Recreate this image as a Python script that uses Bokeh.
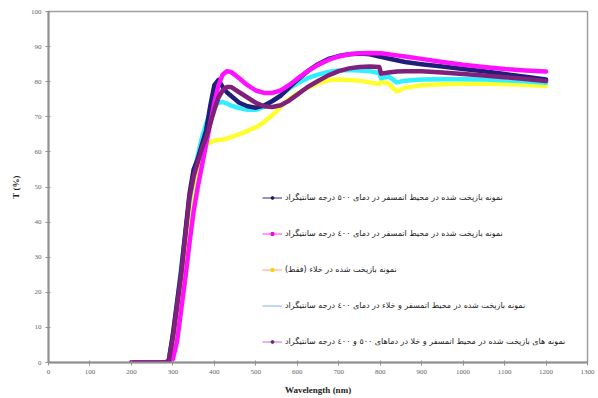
from bokeh.plotting import figure
from bokeh.models import Range1d, Legend, LegendItem
from bokeh.embed import file_html
from bokeh.resources import INLINE

# ---- data ----
wavelength = [200, 280, 290, 300, 310, 320, 330, 340, 350, 360, 370, 380, 390, 400,
              410, 420, 430, 440, 460, 480, 500, 520, 540, 560, 580, 600, 625, 650,
              675, 700, 725, 750, 775, 798, 802, 820, 840, 860, 900, 950, 1000, 1050,
              1100, 1150, 1200]

t_air_500 = [0, 0, 0.5, 8, 17, 26, 37, 48, 55, 58, 62, 66, 73, 79,
             80.5, 78.5, 77, 76, 74, 73, 72.6, 73.2, 74.5, 76, 78.3, 80.5, 83, 85,
             86.5, 87.3, 87.8, 88, 87.8, 87.2, 87.1, 86.6, 86.1, 85.6, 85, 84.3, 83.6, 83,
             82.2, 81.4, 80.6]

t_air_400 = [0, 0, 0, 1, 6, 15, 24, 34, 43, 50, 56, 62, 68, 74,
             79, 82, 83, 82.8, 81, 79, 77.5, 76.8, 76.8, 77.5, 79, 80.8, 83, 84.8,
             86.2, 87.2, 87.8, 88.1, 88.2, 88.1, 88.1, 87.8, 87.5, 87.2, 86.5, 85.6, 84.8, 84.2,
             83.6, 83.2, 82.9]

t_vacuum = [0, 0, 0, 4, 13, 22, 32, 42, 50, 55, 59, 61.8, 62.8, 63.2,
            63.4, 63.5, 63.8, 64.2, 65, 66, 67, 68.5, 70.5, 72.8, 75, 76.6, 78.2, 79.5,
            80.4, 80.6, 80.5, 80.3, 79.8, 79.3, 80, 79.5, 77.2, 78.3, 79, 79.3, 79.4, 79.4,
            79.3, 79.1, 78.8]

t_air_vac_400 = [0, 0, 0.5, 8, 17, 27, 37, 46, 53, 59, 64, 68, 71, 73,
                 74, 74.2, 73.8, 73.2, 72.5, 72, 72, 72.8, 74.5, 76.2, 78, 79.5, 81, 82,
                 82.8, 83.2, 83.3, 83.2, 83, 82.5, 81, 81.5, 79.8, 80.3, 80.6, 80.7, 80.7, 80.6,
                 80.4, 80.1, 79.7]

t_air_vac_500_400 = [0, 0, 0.5, 7, 16, 25, 36, 47, 53, 57, 61, 64, 68, 72,
                     75.5, 77.5, 78.5, 78.5, 77, 75.5, 74, 73, 72.8, 73.3, 74.6, 76.3, 78.5, 80.2,
                     81.8, 83, 83.8, 84.2, 84.3, 84.2, 82.3, 82.6, 82.9, 83, 83, 82.6, 82.2, 81.8,
                     81.3, 80.8, 80.2]

labels = [
    "نمونه بازپخت شده در محیط اتمسفر در دمای ٥٠٠ درجه سانتیگراد\u200f",
    "نمونه بازپخت شده در محیط اتمسفر در دمای ٤٠٠ درجه سانتیگراد\u200f",
    "نمونه بازپخت شده در خلاء (فقط)\u200f",
    "نمونه بازپخت شده در محیط اتمسفر و خلاء در دمای ٤٠٠ درجه سانتیگراد\u200f",
    "نمونه های بازپخت شده در محیط اتمسفر و خلا در دماهای ٥٠٠ و ٤٠٠ درجه سانتیگراد\u200f",
]

x_ticks = list(range(0, 1301, 100))
y_ticks = list(range(0, 101, 10))

# ---- figure ----
p = figure(width=598, height=398, output_backend="svg", toolbar_location=None,
           x_range=Range1d(0, 1300), y_range=Range1d(0, 100),
           min_border_left=48, min_border_right=11, min_border_top=11,
           min_border_bottom=36)
p.frame_width = 539
p.frame_height = 351
p.background_fill_color = "white"
p.border_fill_color = "white"
p.outline_line_color = "#a0a0a0"
p.outline_line_width = 1.5
p.xgrid.visible = False
p.ygrid.visible = False

for ax in (p.xaxis[0], p.yaxis[0]):
    ax.axis_line_color = "#909090"
    ax.axis_line_width = 2
    ax.major_tick_line_color = "#909090"
    ax.major_tick_in = 2
    ax.major_tick_out = 3
    ax.minor_tick_line_color = None
    ax.major_label_text_font = "Liberation Serif"
    ax.major_label_text_font_size = "7px"
    ax.major_label_text_color = "#666666"
    ax.axis_label_text_font = "Liberation Serif"
    ax.axis_label_text_font_style = "bold"
    ax.axis_label_text_font_size = "9px"
    ax.axis_label_text_color = "#222222"

p.xaxis.ticker = x_ticks
p.yaxis.ticker = y_ticks
p.xaxis.axis_label = "Wavelength (nm)"
p.yaxis.axis_label = "T (%)"
p.xaxis.major_label_standoff = 4
p.yaxis.major_label_standoff = 4
p.xaxis.axis_label_standoff = 8
p.yaxis.axis_label_standoff = 7

# ---- curves ----
curve_colors = ["#1f1f78", "#ff10ff", "#ffff30", "#30f0ff", "#80207a"]
series = [t_air_500, t_air_400, t_vacuum, t_air_vac_400, t_air_vac_500_400]
order = [2, 3, 0, 1, 4]
for i in order:
    p.line(wavelength, series[i], line_color=curve_colors[i], line_width=4.5,
           line_join="round", line_cap="round")

# ---- legend (own sample glyphs, placed off-range so only the legend shows them) ----
legend_line_colors = ["#2a2a80", "#ff30ff", "#ff9f80", "#88aaff", "#c070c0"]
legend_marker_colors = ["#1a1a60", "#ee00ee", "#ffd000", None, "#702070"]
legend_markers = ["circle", "square", "square", None, "circle"]
off_x = [-500]
off_y = [-500]
items = []
for i in range(5):
    rl = p.line(off_x, off_y, line_color=legend_line_colors[i], line_width=1)
    rs = [rl]
    if legend_markers[i] is not None:
        sc = p.scatter(off_x, off_y, marker=legend_markers[i], size=3,
                       fill_color=legend_marker_colors[i],
                       line_color=legend_marker_colors[i])
        rs.append(sc)
    items.append(LegendItem(label=labels[i], renderers=rs))

legend = Legend(items=items, location=(214, 14))
legend.label_text_font = "DejaVu Sans"
legend.label_text_font_size = "8px"
legend.label_text_color = "#1a1a1a"
legend.border_line_alpha = 0
legend.background_fill_alpha = 0
legend.glyph_width = 20
legend.glyph_height = 7
legend.label_height = 14
legend.spacing = 22
legend.padding = 0
legend.margin = 0
legend.label_standoff = 3
p.add_layout(legend)

open("out.html", "w").write(file_html(p, INLINE))
